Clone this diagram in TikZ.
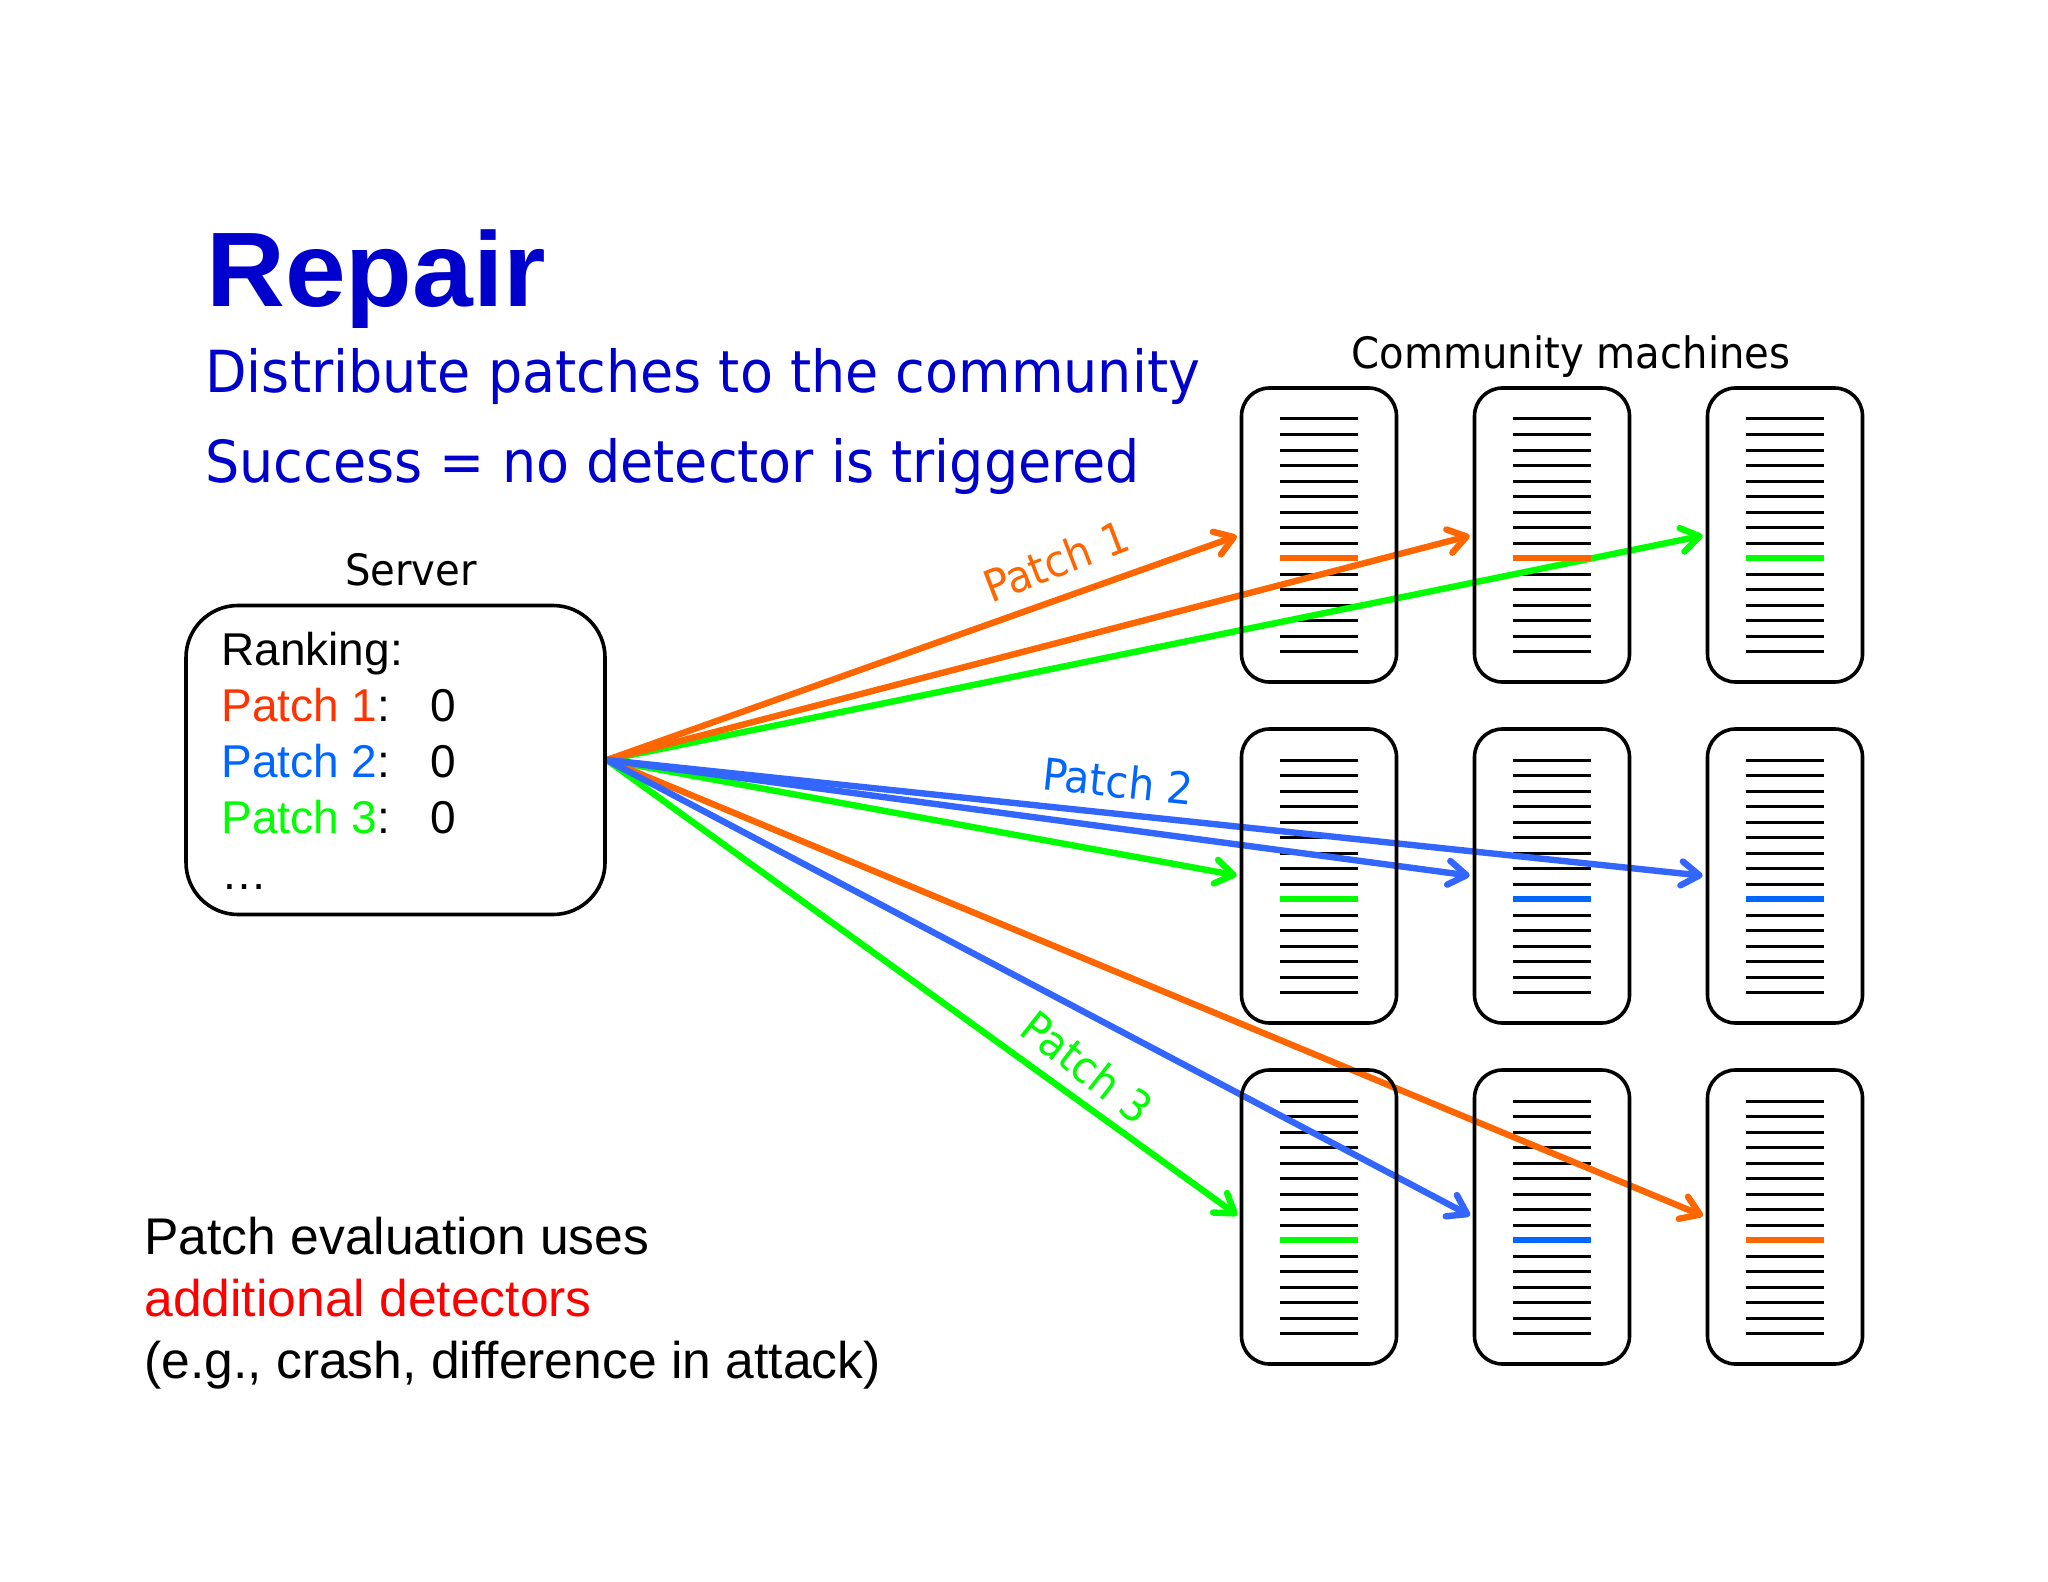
\documentclass[tikz,border=0pt]{standalone}
\usepackage{fontspec}
\setmainfont{Liberation Sans}
\newfontfamily\tahoma{DejaVu Sans}[FakeStretch=0.93]
\newfontfamily\titlefont{Liberation Sans Bold}[FakeStretch=1.03]
\usetikzlibrary{arrows.meta,backgrounds}
\definecolor{patchorange}{HTML}{FF6600}
\definecolor{patchred}{HTML}{FF3300}
\definecolor{patchblue}{HTML}{0066FF}
\definecolor{arrowblue}{HTML}{3366FF}
\definecolor{patchgreen}{HTML}{00FF00}
\definecolor{titleblue}{HTML}{0000CC}
\tikzset{
  machine/.style={draw,line width=1.8pt,rounded corners=14pt,minimum width=77.5pt,minimum height=147pt,inner sep=0pt},
  serverbox/.style={draw,line width=1.8pt,rounded corners=26pt,minimum width=209.5pt,minimum height=154.5pt,inner sep=0pt},
  rowtext/.style={anchor=base west,inner sep=0pt,font=\fontsize{23}{27}\selectfont},
  bottomtext/.style={anchor=base west,inner sep=0pt,font=\fontsize{25.8}{30}\selectfont},
  subtitle/.style={anchor=base west,inner sep=0pt,text=titleblue,font=\tahoma\fontsize{29}{35}\selectfont},
  caption/.style={anchor=base,inner sep=0pt,font=\tahoma\fontsize{21.6}{27}\selectfont},
  patchlabel/.style={inner sep=0pt,font=\tahoma\fontsize{22}{28}\selectfont},
  patcharrow/.style={line width=3.2pt,shorten >=1.5pt,-{Straight Barb[length=9pt,width=12pt,round]}}
}
\begin{document}
\begin{tikzpicture}[x=0.5pt,y=-0.5pt]
\useasboundingbox (0,0) rectangle (2048,1582);

\node[anchor=base west,inner sep=0pt,text=titleblue,font=\titlefont\fontsize{53}{60}\selectfont] (title) at (206,307) {Repair};
\node[subtitle] (sub1) at (205,393) {Distribute patches to the community};
\node[subtitle] (sub2) at (205,483) {Success = no detector is triggered};

\node[caption] (servername) at (411,586) {Server};
\node[caption] (machinesname) at (1571,369) {Community machines};

\node[serverbox] (server) at (395.5,760) {};
\node[rowtext] (rank) at (221,665) {Ranking:};
\node[rowtext] (rank1) at (221,721) {\textcolor{patchred}{Patch 1}:};
\node[rowtext] (rank2) at (221,777) {\textcolor{patchblue}{Patch 2}:};
\node[rowtext] (rank3) at (221,833) {\textcolor{patchgreen}{Patch 3}:};
\node[rowtext] (rankdots) at (221,889) {\ldots};
\foreach \u in {1,2,3}
{
  \pgfmathsetmacro{\y}{721+(\u-1)*56};
  \node[rowtext] (score\u) at (430,\y) {0};
}

\foreach \r in {1,2,3}
{
  \foreach \c in {1,2,3}
  {
    \pgfmathsetmacro{\x}{1319+(\c-1)*233};
    \pgfmathsetmacro{\y}{535+(\r-1)*341};
    \node[machine] (m\r\c) at (\x,\y) {};
    \begin{scope}[on background layer]
    \foreach \l in {0,...,15}
    {
      \pgfmathsetmacro{\ly}{\y-116+\l*15.53};
      \ifnum\l=9\relax\else
        \draw[line width=1.5pt] (\x-39,\ly) -- (\x+39,\ly);
      \fi
    }
    \end{scope}
  }
}

\foreach \m/\col in {m11/patchorange,m12/patchorange,m13/patchgreen,
                     m21/patchgreen,m22/patchblue,m23/patchblue,
                     m31/patchgreen,m32/patchblue,m33/patchorange}
{
  \draw[line width=3.2pt,color=\col] ([shift={(-39,23)}]\m.center) -- ([shift={(39,23)}]\m.center);
}

\begin{scope}[on background layer]
  \foreach \m in {m13,m21,m31}
    \draw[patcharrow,patchgreen] (server.east) -- (\m.west);
  \foreach \m in {m11,m12,m33}
    \draw[patcharrow,patchorange] (server.east) -- (\m.west);
  \foreach \m in {m23,m22,m32}
    \draw[patcharrow,arrowblue] (server.east) -- (\m.west);
\end{scope}

\node[patchlabel,text=patchorange,rotate=21] (label1) at (1056,561) {Patch 1};
\node[patchlabel,text=patchblue,rotate=-6] (label2) at (1118,781) {Patch 2};
\node[patchlabel,text=patchgreen,rotate=-38] (label3) at (1087,1067) {Patch 3};

\node[bottomtext] (note1) at (144,1254.5) {Patch evaluation uses};
\node[bottomtext,text=red] (note2) at (144,1316.5) {additional detectors};
\node[bottomtext] (note3) at (144,1378.5) {(e.g., crash, difference in attack)};
\end{tikzpicture}
\end{document}
